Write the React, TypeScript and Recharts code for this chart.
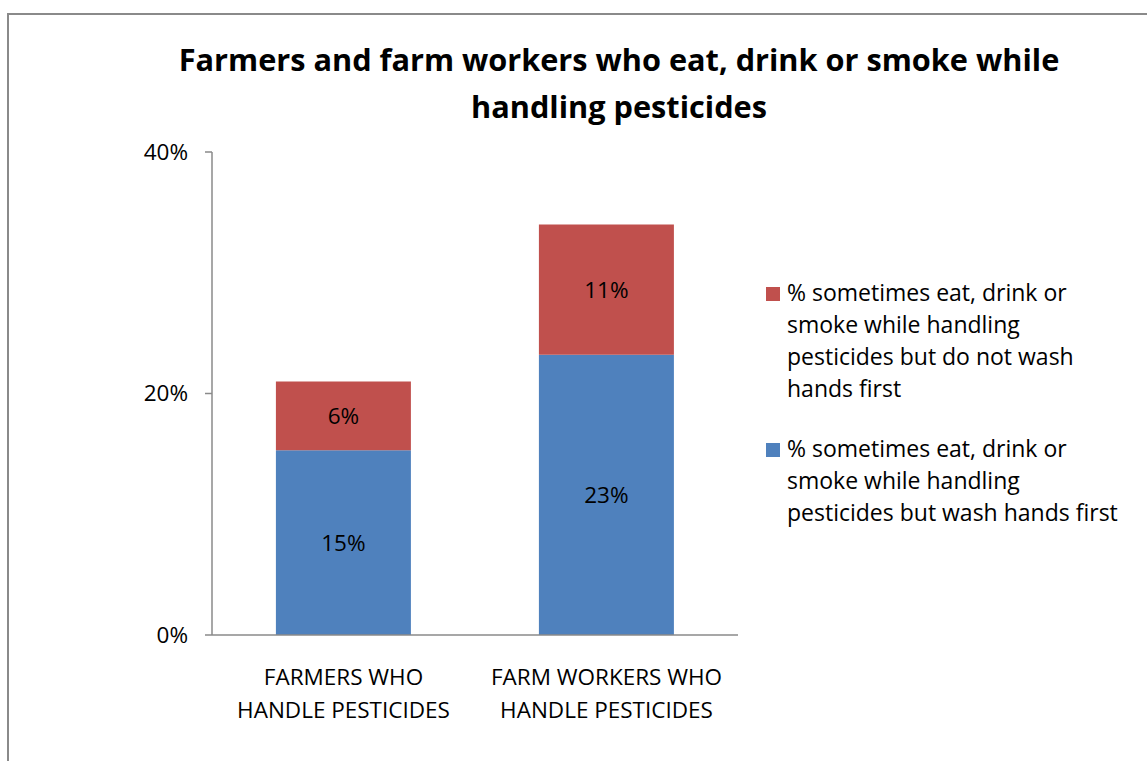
import React from 'react';
import { BarChart, Bar, XAxis, YAxis, LabelList } from 'recharts';

const categories = ['FARMERS WHO\nHANDLE PESTICIDES', 'FARM WORKERS WHO\nHANDLE PESTICIDES'];
const washFirst = [15.3, 23.2];
const noWash = [5.7, 10.8];
const yTicks = [0, 20, 40];
const titleLines = ['Farmers and farm workers who eat, drink or smoke while', 'handling pesticides'];
const seriesNames = [
  '% sometimes eat, drink or smoke while handling pesticides but wash hands first',
  '% sometimes eat, drink or smoke while handling pesticides but do not wash hands first',
];
const seriesColors = ['#4F81BD', '#C0504D'];

const data = categories.map((c, i) => ({ name: c, wash: washFirst[i], noWash: noWash[i] }));

const FONT = "'Open Sans', sans-serif";
const AXIS = '#8a8a8a';

const XTick = (props: any) => {
  const { x, y, payload } = props;
  const lines = String(payload.value).split('\n');
  return (
    <text x={x} y={y} textAnchor="middle" fontFamily={FONT} fontSize={22.5} fill="#000">
      {lines.map((l, i) => (
        <tspan key={i} x={x} y={y + 50 + i * 33}>
          {l}
        </tspan>
      ))}
    </text>
  );
};

export default function App() {
  const legendOrder = [1, 0];
  return (
    <div
      style={{
        position: 'absolute',
        left: 0,
        top: 0,
        width: 1147,
        height: 761,
        overflow: 'hidden',
        background: '#fff',
        fontFamily: FONT,
      }}
    >
      <div
        style={{
          position: 'absolute',
          left: 7,
          top: 13,
          width: 1160,
          height: 780,
          borderTop: `2px solid ${AXIS}`,
          borderLeft: `2px solid ${AXIS}`,
          boxSizing: 'border-box',
        }}
      />
      <div
        style={{
          position: 'absolute',
          left: 119,
          top: 36,
          width: 1000,
          textAlign: 'center',
          fontWeight: 700,
          fontSize: 30.7,
          lineHeight: '46.7px',
          color: '#000',
        }}
      >
        {titleLines.map((t, i) => (
          <div key={i}>{t}</div>
        ))}
      </div>
      <div style={{ position: 'absolute', left: 0, top: 0 }}>
        <BarChart
          width={1147}
          height={761}
          data={data}
          margin={{ top: 152, right: 409, bottom: 96, left: 0 }}
          barCategoryGap="24.3%"
        >
          <XAxis
            dataKey="name"
            height={30}
            tickLine={false}
            tickSize={0}
            tickMargin={0}
            axisLine={{ stroke: AXIS, strokeWidth: 1.5 }}
            tick={<XTick />}
            interval={0}
          />
          <YAxis
            width={212}
            domain={[0, 40]}
            ticks={yTicks}
            tickSize={7}
            tickMargin={17}
            tickFormatter={(v: number) => `${v}%`}
            axisLine={{ stroke: AXIS, strokeWidth: 1.5 }}
            tickLine={{ stroke: AXIS, strokeWidth: 1.5 }}
            tick={{ fontFamily: FONT, fontSize: 22.5, fill: '#000' }}
          />
          <Bar dataKey="wash" name={seriesNames[0]} stackId="s" fill={seriesColors[0]} isAnimationActive={false}>
            <LabelList
              dataKey="wash"
              position="center"
              fill="#000"
              fontFamily={FONT}
              fontSize={22.5}
              formatter={(v: any) => `${Math.round(Number(v))}%`}
            />
          </Bar>
          <Bar dataKey="noWash" name={seriesNames[1]} stackId="s" fill={seriesColors[1]} isAnimationActive={false}>
            <LabelList
              dataKey="noWash"
              position="center"
              fill="#000"
              fontFamily={FONT}
              fontSize={22.5}
              formatter={(v: any) => `${Math.round(Number(v))}%`}
            />
          </Bar>
        </BarChart>
      </div>
      <div style={{ position: 'absolute', left: 766, top: 276, width: 375 }}>
        {legendOrder.map((si) => (
          <div key={si} style={{ display: 'flex', alignItems: 'flex-start', marginBottom: 28 }}>
            <div
              style={{
                width: 14,
                height: 14,
                marginTop: 11,
                marginRight: 7,
                background: seriesColors[si],
                flex: 'none',
              }}
            />
            <div style={{ width: 336, fontSize: 23, lineHeight: '32px', color: '#000' }}>{seriesNames[si]}</div>
          </div>
        ))}
      </div>
    </div>
  );
}
